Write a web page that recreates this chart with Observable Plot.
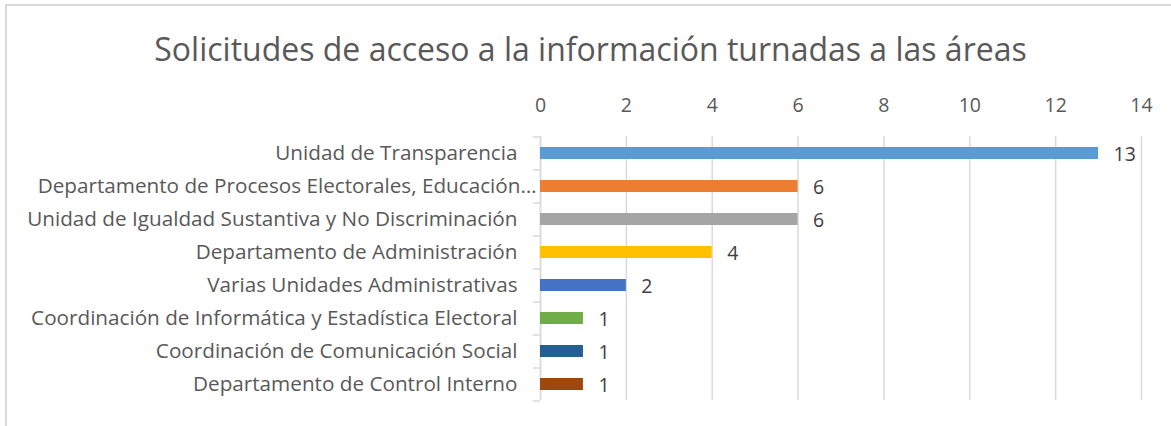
<!DOCTYPE html>
<html>
<head>
<meta charset="utf-8">
<script src="https://cdn.jsdelivr.net/npm/d3@7"></script>
<script src="https://cdn.jsdelivr.net/npm/@observablehq/plot@0.6"></script>
<style>
  html, body { margin: 0; padding: 0; background: #fff; }
  #wrap { position: relative; width: 1171px; height: 426px; overflow: hidden; font-family: "Open Sans", Lato, sans-serif; }
  #frame { position: absolute; left: 5px; top: 4px; width: 1200px; height: 460px; border-left: 2px solid #d9d9d9; border-top: 2px solid #d9d9d9; }
  #title { position: absolute; left: 0; top: 27px; width: 1181px; text-align: center; font-size: 32px; color: #595959; line-height: 44px; }
  #chart { position: absolute; left: 0; top: 0; }
</style>
</head>
<body>
<div id="wrap">
  <div id="frame"></div>
  <div id="chart"></div>
  <div id="title">Solicitudes de acceso a la información turnadas a las áreas</div>
</div>
<script>
const categories = [
  "Unidad de Transparencia",
  "Departamento de Procesos Electorales, Educación…",
  "Unidad de Igualdad Sustantiva y No Discriminación",
  "Departamento de Administración",
  "Varias Unidades Administrativas",
  "Coordinación de Informática y Estadística Electoral",
  "Coordinación de Comunicación Social",
  "Departamento de Control Interno"
];
const values = [13, 6, 6, 4, 2, 1, 1, 1];
const colors = ["#5b9bd5", "#ed7d31", "#a5a5a5", "#ffc000", "#4472c4", "#70ad47", "#255e91", "#9e480e"];
const xTicks = [0, 2, 4, 6, 8, 10, 12, 14];

const data = categories.map((c, i) => ({ area: c, value: values[i], color: colors[i] }));
const truncated = categories[1];
const FONT = "'Open Sans', Lato, sans-serif";

const chart = Plot.plot({
  width: 1171,
  height: 426,
  marginLeft: 540,
  marginRight: 30,
  marginTop: 136,
  marginBottom: 26,
  style: { fontFamily: FONT, background: "transparent" },
  x: { domain: [0, 14], axis: null },
  y: { domain: categories, paddingInner: 0.64, paddingOuter: 0.32, axis: null },
  marks: [
    Plot.ruleX(xTicks, { x: d => d, stroke: "#d9d9d9", strokeWidth: 1.5, strokeOpacity: 1 }),
    Plot.ruleX([0], { x: d => d, stroke: "#d9d9d9", strokeWidth: 1.5 }),
    Plot.ruleY(categories, { y: d => d, x1: 0, x2: -0.165, dy: -16.5, stroke: "#d9d9d9", strokeWidth: 1.5 }),
    Plot.ruleY([categories[categories.length - 1]], { y: d => d, x1: 0, x2: -0.165, dy: 16.5, stroke: "#d9d9d9", strokeWidth: 1.5 }),
    Plot.barX(data, { y: "area", x1: 0, x2: "value", fill: "color" }),
    Plot.text(data, { y: "area", x: "value", text: d => String(d.value), textAnchor: "start", dx: 15, dy: 1.5, fontSize: 19.5, fill: "#404040" }),
    Plot.text(data.filter(d => d.area !== truncated), { y: "area", x: 0, text: "area", textAnchor: "end", dx: -23, fontSize: 20.7, fill: "#595959" }),
    Plot.text(data.filter(d => d.area === truncated), { y: "area", x: 0, text: "area", textAnchor: "end", dx: -4, fontSize: 20.7, fill: "#595959" }),
    Plot.text(xTicks, { x: d => d, text: d => String(d), frameAnchor: "top", dy: -38, fontSize: 19.5, fill: "#595959" })
  ]
});
document.getElementById("chart").appendChild(chart);
</script>
</body>
</html>
